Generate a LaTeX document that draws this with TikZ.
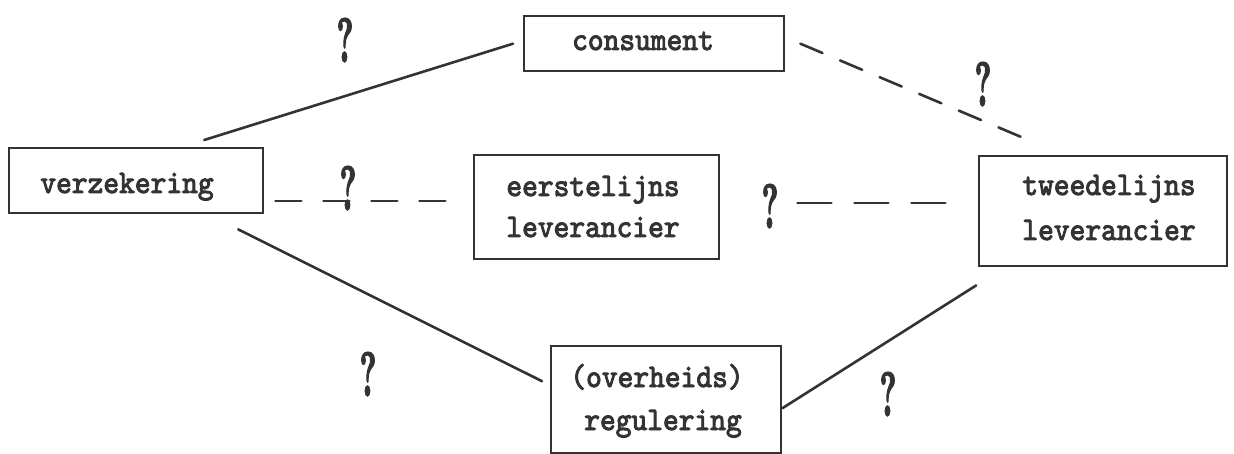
\documentclass[tikz,border=0pt]{standalone}
\usepackage{fontspec}
\usepackage{graphicx}
\newfontfamily\twfont{lmmono10-regular.otf}[FakeBold=3]
\newfontfamily\qfont{lmroman10-bold.otf}[FakeBold=3]
\newcommand\tw[1]{\scalebox{1}[1.1]{\twfont\fontsize{30}{34}\selectfont #1}}
\newcommand\qmark{\scalebox{0.5}[1]{\qfont\fontsize{62}{62}\selectfont ?}}
\begin{document}
\begin{tikzpicture}[x=1pt,y=-1pt,
  box/.style={draw=black!80, line width=2.4pt, inner sep=0pt, anchor=north west},
  lbl/.style={inner sep=0pt, anchor=base, text=black!80},
  qm/.style={inner sep=0pt, anchor=south, text=black!80},
  link/.style={draw=black!80, line width=2.6pt, line cap=round},
  dlinkA/.style={link, dash pattern=on 24pt off 19pt},
  dlinkB/.style={link, dash pattern=on 26pt off 22pt},
  dlinkC/.style={link, dash pattern=on 34pt off 23pt}]
\useasboundingbox (0,0) rectangle (1234,454);
% boxes
\node[box, minimum width=260pt, minimum height=55pt] (cons) at (523,15) {};
\node[box, minimum width=254pt, minimum height=65pt] (verz) at (8,147) {};
\node[box, minimum width=245pt, minimum height=104pt] (eerst) at (473,154) {};
\node[box, minimum width=248pt, minimum height=110pt] (tweed) at (978,155) {};
\node[box, minimum width=230pt, minimum height=107pt] (reg) at (550,345) {};
% labels
\node[lbl] (tcons) at (643,50) {\tw{consument}};
\node[lbl] (tverz) at (127,193) {\tw{verzekering}};
\node[lbl] (teerst1) at (593,196) {\tw{eerstelijns}};
\node[lbl] (teerst2) at (593,237) {\tw{leverancier}};
\node[lbl] (ttweed1) at (1109,195) {\tw{tweedelijns}};
\node[lbl] (ttweed2) at (1109,240) {\tw{leverancier}};
\node[lbl] (treg1) at (657,387) {\tw{(overheids)}};
\node[lbl] (treg2) at (663,430) {\tw{regulering}};
% connectors
\draw[link] ([shift={(68pt,7pt)}]verz.north) -- ([xshift=-10pt]cons.west);
\draw[dlinkA] ([xshift=15pt]cons.east) -- ([shift={(-82pt,18pt)}]tweed.north);
\draw[dlinkB] ([shift={(11pt,-20.5pt)}]verz.east) -- ([shift={(-27pt,6pt)}]eerst.west);
\draw[dlinkC] ([shift={(77pt,4pt)}]eerst.east) -- ([shift={(-32pt,8pt)}]tweed.west);
\draw[link] ([shift={(102pt,-15pt)}]verz.south) -- ([shift={(-8pt,18.5pt)}]reg.west);
\draw[link] ([yshift=-8.5pt]reg.east) -- ([shift={(-127pt,-18pt)}]tweed.south);
% question marks
\node[qm] (q1) at (345,62) {\qmark};
\node[qm] (q2) at (983,106) {\qmark};
\node[qm] (q3) at (348,210) {\qmark};
\node[qm] (q4) at (770,228) {\qmark};
\node[qm] (q5) at (368,396) {\qmark};
\node[qm] (q6) at (888,416) {\qmark};
\end{tikzpicture}
\end{document}
